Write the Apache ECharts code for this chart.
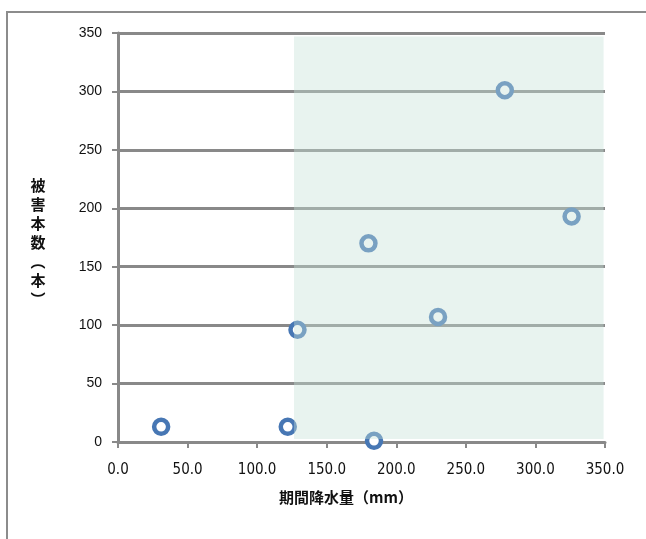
<!DOCTYPE html>
<html><head><meta charset="utf-8">
<script src="https://cdn.jsdelivr.net/npm/echarts@6/dist/echarts.min.js"></script>
<style>html,body{margin:0;padding:0;background:#fff}#c{width:646px;height:539px}</style>
</head><body><div id="c"></div>
<script>
const rainfall = [31, 122, 129, 180, 184, 230, 278, 326];
const damage   = [13, 13, 96, 170, 1, 107, 301, 193];
const xTicks = [0, 50, 100, 150, 200, 250, 300, 350];
const yTicks = [0, 50, 100, 150, 200, 250, 300, 350];
const shadeX = [126.5, 349];
const shadeY = [2.5, 347];
const xTitle = '期間降水量（mm）';
const yTitle = ['被','害','本','数','︵','本','︶'];

const chart = echarts.init(document.getElementById('c'));
const axisGray = '#898989';
chart.setOption({
  animation: false,
  graphic: [{
    type: 'rect', shape: {x: 7, y: 12, width: 700, height: 600},
    style: {fill: 'none', stroke: '#8c8c8c', lineWidth: 2}, z: -10
  }, {
    type: 'text', x: 346, y: 497,
    style: {text: xTitle, fontFamily: 'Noto Sans CJK JP', fontWeight: 'bold', fontSize: 15,
      fill: '#111', align: 'center', verticalAlign: 'middle'}
  }, {
    type: 'text', x: 38, y: 242,
    style: {text: yTitle.join('\n'), fontFamily: 'Noto Sans CJK JP', fontWeight: 'bold', fontSize: 15,
      lineHeight: 19, fill: '#111', align: 'center', verticalAlign: 'middle'}
  }],
  grid: {left: 118, right: 41, top: 33, bottom: 97},
  xAxis: {
    type: 'value', min: xTicks[0], max: xTicks[xTicks.length-1], interval: 50,
    axisLine: {lineStyle: {color: axisGray, width: 3}},
    axisTick: {show: true, length: 6, lineStyle: {color: axisGray, width: 2}},
    splitLine: {show: false},
    axisLabel: {color: '#111', fontFamily: 'DejaVu Sans Condensed', fontSize: 15, margin: 21,
      formatter: v => v.toFixed(1)}
  },
  yAxis: {
    type: 'value', min: yTicks[0], max: yTicks[yTicks.length-1], interval: 50,
    axisLine: {show: true, lineStyle: {color: axisGray, width: 3}},
    axisTick: {show: true, length: 6, lineStyle: {color: axisGray, width: 2}},
    splitLine: {show: true, lineStyle: {color: axisGray, width: 3}},
    axisLabel: {color: '#111', fontFamily: 'Liberation Sans', fontSize: 14, margin: 16}
  },
  series: [{
    type: 'scatter', z: 2,
    data: rainfall.map((x, i) => [x, damage[i]]),
    symbol: 'circle', symbolSize: 14,
    itemStyle: {color: '#ffffff', borderColor: '#4777b4', borderWidth: 4.5, opacity: 1}
  }, {
    type: 'custom', z: 5, silent: true,
    data: [[shadeX[0], shadeY[0], shadeX[1], shadeY[1]]],
    encode: {x: [0, 2], y: [1, 3]},
    renderItem: (params, api) => {
      const p0 = api.coord([api.value(0), api.value(3)]);
      const p1 = api.coord([api.value(2), api.value(1)]);
      return {type: 'rect', shape: {x: p0[0], y: p0[1], width: p1[0]-p0[0], height: p1[1]-p0[1]},
        style: {fill: 'rgba(198,224,214,0.40)'}};
    }
  }]
});
</script></body></html>
